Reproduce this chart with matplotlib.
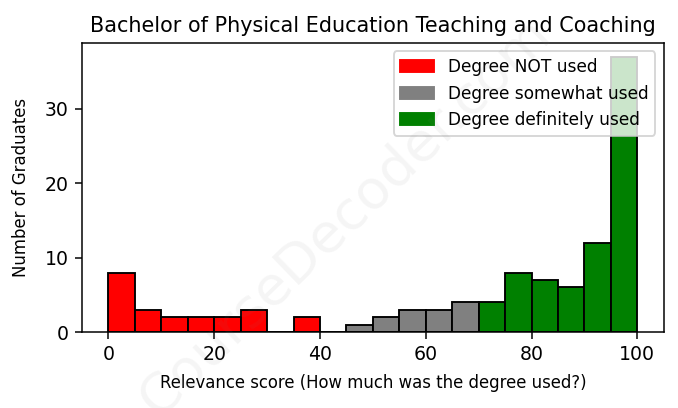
import matplotlib
matplotlib.use("Agg")
import matplotlib.pyplot as plt
from matplotlib.patches import Patch

# histogram data, bins of width 5 from 0 to 100
bin_edges = list(range(0, 100, 5))
counts = [8, 3, 2, 2, 2, 3, 0, 2, 0, 1, 2, 3, 3, 4, 4, 8, 7, 6, 12, 37]
categories = ["Degree NOT used", "Degree somewhat used", "Degree definitely used"]
cat_colors = ["red", "gray", "green"]
# bin start thresholds for category boundaries
somewhat_start = 45
definitely_start = 70
y_ticks = [0, 10, 20, 30]

def bin_color(left):
    if left >= definitely_start:
        return cat_colors[2]
    if left >= somewhat_start:
        return cat_colors[1]
    return cat_colors[0]

fig, ax = plt.subplots(figsize=(5, 3.009), dpi=135.6)

colors = [bin_color(b) for b in bin_edges]
ax.bar(bin_edges, counts, width=5, align='edge', color=colors,
       edgecolor='black', linewidth=1)

ax.set_title("Bachelor of Physical Education Teaching and Coaching", fontsize=11)
ax.set_xlabel("Relevance score (How much was the degree used?)", fontsize=8.8,
              labelpad=5)
ax.set_ylabel("Number of Graduates", fontsize=8.8, labelpad=8)
ax.set_yticks(y_ticks)
ax.tick_params(labelsize=10)

handles = [Patch(color=c, label=l) for c, l in zip(cat_colors, categories)]
ax.legend(handles=handles, loc='upper right', fontsize=9)

# watermark
fig.text(0.51, 0.47, "CourseDecoder.com", fontsize=29, color='gray',
         alpha=0.08, rotation=44, ha='center', va='center')

fig.subplots_adjust(left=0.121, right=0.979, top=0.895, bottom=0.186)
fig.savefig("out.png", dpi=135.6)
